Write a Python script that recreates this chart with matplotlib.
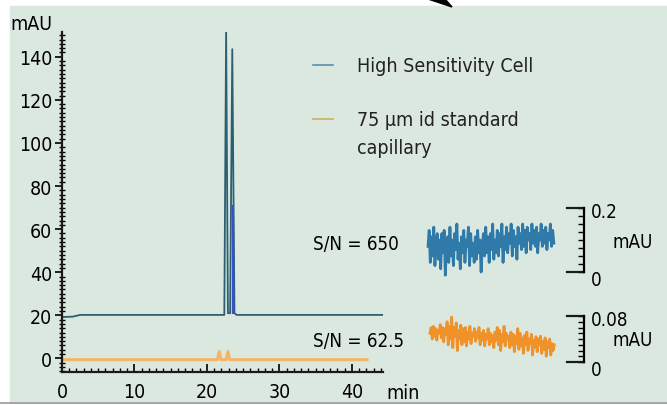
import matplotlib
matplotlib.use("Agg")
import matplotlib.pyplot as plt
from matplotlib.lines import Line2D
from matplotlib.patches import Rectangle, Polygon
from matplotlib.ticker import MultipleLocator

plt.rcParams['font.family'] = ['DejaVu Sans']
plt.rcParams['font.stretch'] = 'condensed'

# chromatogram, High Sensitivity Cell (min, mAU)
hs_time = [0, 1.5, 2.5, 22.4, 22.65, 22.9, 23.2, 23.5, 23.8, 24.1, 44.3]
hs_mau = [19.2, 19.4, 20.2, 20.2, 152, 21, 21, 143.5, 21, 20.2, 20.2]
# blue overlay on the second peak
hs2_time = [23.55, 23.62, 23.7]
hs2_mau = [21, 71, 21]

# chromatogram, 75 um id standard capillary
std_time = [0, 21.45, 21.7, 21.95, 22.65, 22.9, 23.15, 42.3]
std_mau = [-0.6, -0.6, 3.2, -0.6, -0.6, 3.2, -0.6, -0.6]

# baseline noise (mAU)
hs_noise = [0.08, 0.13, 0.03, 0.11, 0.05, 0.14, 0.02, 0.09, 0.12, 0.04,
            0.10, 0.01, 0.12, 0.06, 0.13, -0.01, 0.09, 0.11, 0.03, 0.14,
            0.05, 0.10, 0.02, 0.12, 0.07, 0.15, 0.04, 0.09, 0.01, 0.11,
            0.06, 0.13, 0.03, 0.10, 0.08, 0.14, 0.02, 0.12, 0.05, 0.09,
            0.03, 0.11, 0.04, 0.13, 0.06, 0.10, 0.00, 0.08, 0.12, 0.05,
            0.14, 0.06, 0.11, 0.03, 0.12, 0.07, 0.15, 0.04, 0.10, 0.06,
            0.13, 0.05, 0.12, 0.08, 0.15, 0.03, 0.11, 0.07, 0.14, 0.06,
            0.12, 0.09, 0.15, 0.05, 0.13, 0.08, 0.11, 0.04, 0.14, 0.09,
            0.12, 0.07, 0.15, 0.08, 0.13, 0.06, 0.14, 0.10, 0.12, 0.07,
            0.15, 0.09, 0.13, 0.08, 0.14, 0.06, 0.12, 0.10, 0.15, 0.08,
            0.13, 0.09, 0.14, 0.07, 0.12, 0.10, 0.15, 0.08, 0.13, 0.09]
std_noise = [0.05, 0.06, 0.04, 0.062, 0.045, 0.058, 0.038, 0.055, 0.05, 0.065,
             0.042, 0.06, 0.035, 0.058, 0.048, 0.07, 0.03, 0.062, 0.04, 0.078,
             0.025, 0.06, 0.045, 0.068, 0.02, 0.055, 0.04, 0.064, 0.03, 0.058,
             0.035, 0.06, 0.028, 0.052, 0.04, 0.062, 0.032, 0.05, 0.045, 0.058,
             0.036, 0.052, 0.042, 0.06, 0.03, 0.05, 0.038, 0.055, 0.028, 0.048,
             0.04, 0.058, 0.03, 0.05, 0.035, 0.046, 0.025, 0.052, 0.038, 0.06,
             0.03, 0.055, 0.02, 0.048, 0.035, 0.062, 0.028, 0.05, 0.04, 0.045,
             0.025, 0.052, 0.03, 0.048, 0.018, 0.045, 0.032, 0.058, 0.022, 0.05,
             0.028, 0.042, 0.015, 0.046, 0.03, 0.052, 0.02, 0.04, 0.032, 0.048,
             0.012, 0.038, 0.026, 0.044, 0.018, 0.04, 0.03, 0.045, 0.015, 0.036,
             0.022, 0.042, 0.01, 0.035, 0.025, 0.04, 0.012, 0.032, 0.02, 0.03]

W, H = 667, 406
BG = '#dbe8e0'
fig = plt.figure(figsize=(W / 100, H / 100), dpi=100, facecolor='white')


def fx(x):
    return x / W


def fy(y):
    return 1 - y / H


def box(x0, y0, x1, y1):
    # pixel box (top-left origin) -> figure fraction rect
    return [fx(x0), fy(y1), fx(x1) - fx(x0), fy(y0) - fy(y1)]


# scanned page background
fig.add_artist(Rectangle((fx(10), fy(404)), 1, fy(7) - fy(404),
                         transform=fig.transFigure, color=BG, zorder=-5))
fig.add_artist(Line2D([0, 1], [fy(404), fy(404)], transform=fig.transFigure,
                      color='#9a9a9a', lw=1.2))
fig.add_artist(Polygon([(fx(428), fy(0)), (fx(445), fy(0)), (fx(452), fy(8))],
                       closed=True, transform=fig.transFigure, color='black'))

# main chromatogram
ax = fig.add_axes(box(62, 33, 383, 373))
ax.set_facecolor('none')
ax.plot(std_time, std_mau, color='#f3b565', lw=2.2, solid_capstyle='butt')
ax.plot(hs_time, hs_mau, color='#2c5f70', lw=1.3)
ax.plot(hs2_time, hs2_mau, color='#3b4fc8', lw=1.2)
ax.set_xlim(0, 44.3)
ax.set_ylim(-6.3, 151.5)
for s in ['top', 'right']:
    ax.spines[s].set_visible(False)
for s in ['left', 'bottom']:
    ax.spines[s].set_linewidth(1.6)
    ax.spines[s].set_color('#1a1a1a')
ax.xaxis.set_major_locator(MultipleLocator(10))
ax.xaxis.set_minor_locator(MultipleLocator(1))
ax.yaxis.set_major_locator(MultipleLocator(20))
ax.yaxis.set_minor_locator(MultipleLocator(2))
ax.tick_params(axis='x', which='major', direction='in', length=6, width=1.2,
               pad=7, labelsize=14)
ax.tick_params(axis='x', which='minor', direction='in', length=3, width=1)
ax.tick_params(axis='y', which='major', direction='out', length=5, width=1.2,
               pad=2, labelsize=14)
ax.tick_params(axis='y', which='minor', direction='inout', length=4, width=1)
ax.set_yticks([0, 20, 40, 60, 80, 100, 120, 140])
ax.set_xticks([0, 10, 20, 30, 40])

fig.text(fx(10), fy(25), 'mAU', fontsize=14, va='center', ha='left')
fig.text(fx(386), fy(394), 'min', fontsize=14, va='center', ha='left')

# legend
fig.add_artist(Line2D([fx(313), fx(333)], [fy(66), fy(66)],
                      transform=fig.transFigure, color='#5a8fb0', lw=1.2))
fig.add_artist(Line2D([fx(313), fx(333)], [fy(120), fy(120)],
                      transform=fig.transFigure, color='#c9b25a', lw=1.2))
fig.text(fx(357), fy(66), 'High Sensitivity Cell', fontsize=14,
         va='center', ha='left', color='#222222')
fig.text(fx(357), fy(120), '75 µm id standard', fontsize=14,
         va='center', ha='left', color='#222222')
fig.text(fx(357), fy(148), 'capillary', fontsize=14,
         va='center', ha='left', color='#222222')

fig.text(fx(313), fy(245), 'S/N = 650', fontsize=13.5, va='center', ha='left')
fig.text(fx(313), fy(342), 'S/N = 62.5', fontsize=13.5, va='center', ha='left')


def noise_panel(rect, values, top, color, label_top, ypx):
    a = fig.add_axes(rect)
    a.set_facecolor('none')
    n = len(values)
    a.plot(range(n), values, color=color, lw=2, clip_on=False)
    a.set_xlim(0, n * 156 / 127)
    a.set_ylim(0, top)
    for s in ['top', 'left', 'bottom']:
        a.spines[s].set_visible(False)
    a.spines['right'].set_linewidth(1.6)
    a.axhline(0, xmin=0.89, xmax=1, color='#1a1a1a', lw=1.6, clip_on=False)
    a.axhline(top, xmin=0.89, xmax=1, color='#1a1a1a', lw=1.6, clip_on=False)
    a.set_xticks([])
    a.yaxis.set_ticks_position('right')
    a.set_yticks([])
    a.yaxis.set_minor_locator(MultipleLocator(top / 8))
    a.tick_params(axis='y', which='minor', direction='in', length=4, width=1)
    y0, y1 = ypx
    fig.text(fx(591), fy(y0 + 4), label_top, fontsize=13.5, va='center', ha='left')
    fig.text(fx(612), fy((y0 + y1) / 2 + 1), 'mAU', fontsize=13.5, va='center', ha='left')
    fig.text(fx(591), fy(y1 + 8), '0', fontsize=13.5, va='center', ha='left')
    return a


noise_panel(box(428, 209, 584, 273), hs_noise, 0.2, '#2f7aa8', '0.2', (209, 273))
noise_panel(box(430, 317, 584, 363), std_noise, 0.08, '#f0922a', '0.08', (317, 363))

fig.savefig('out.png', dpi=100, facecolor=fig.get_facecolor())
